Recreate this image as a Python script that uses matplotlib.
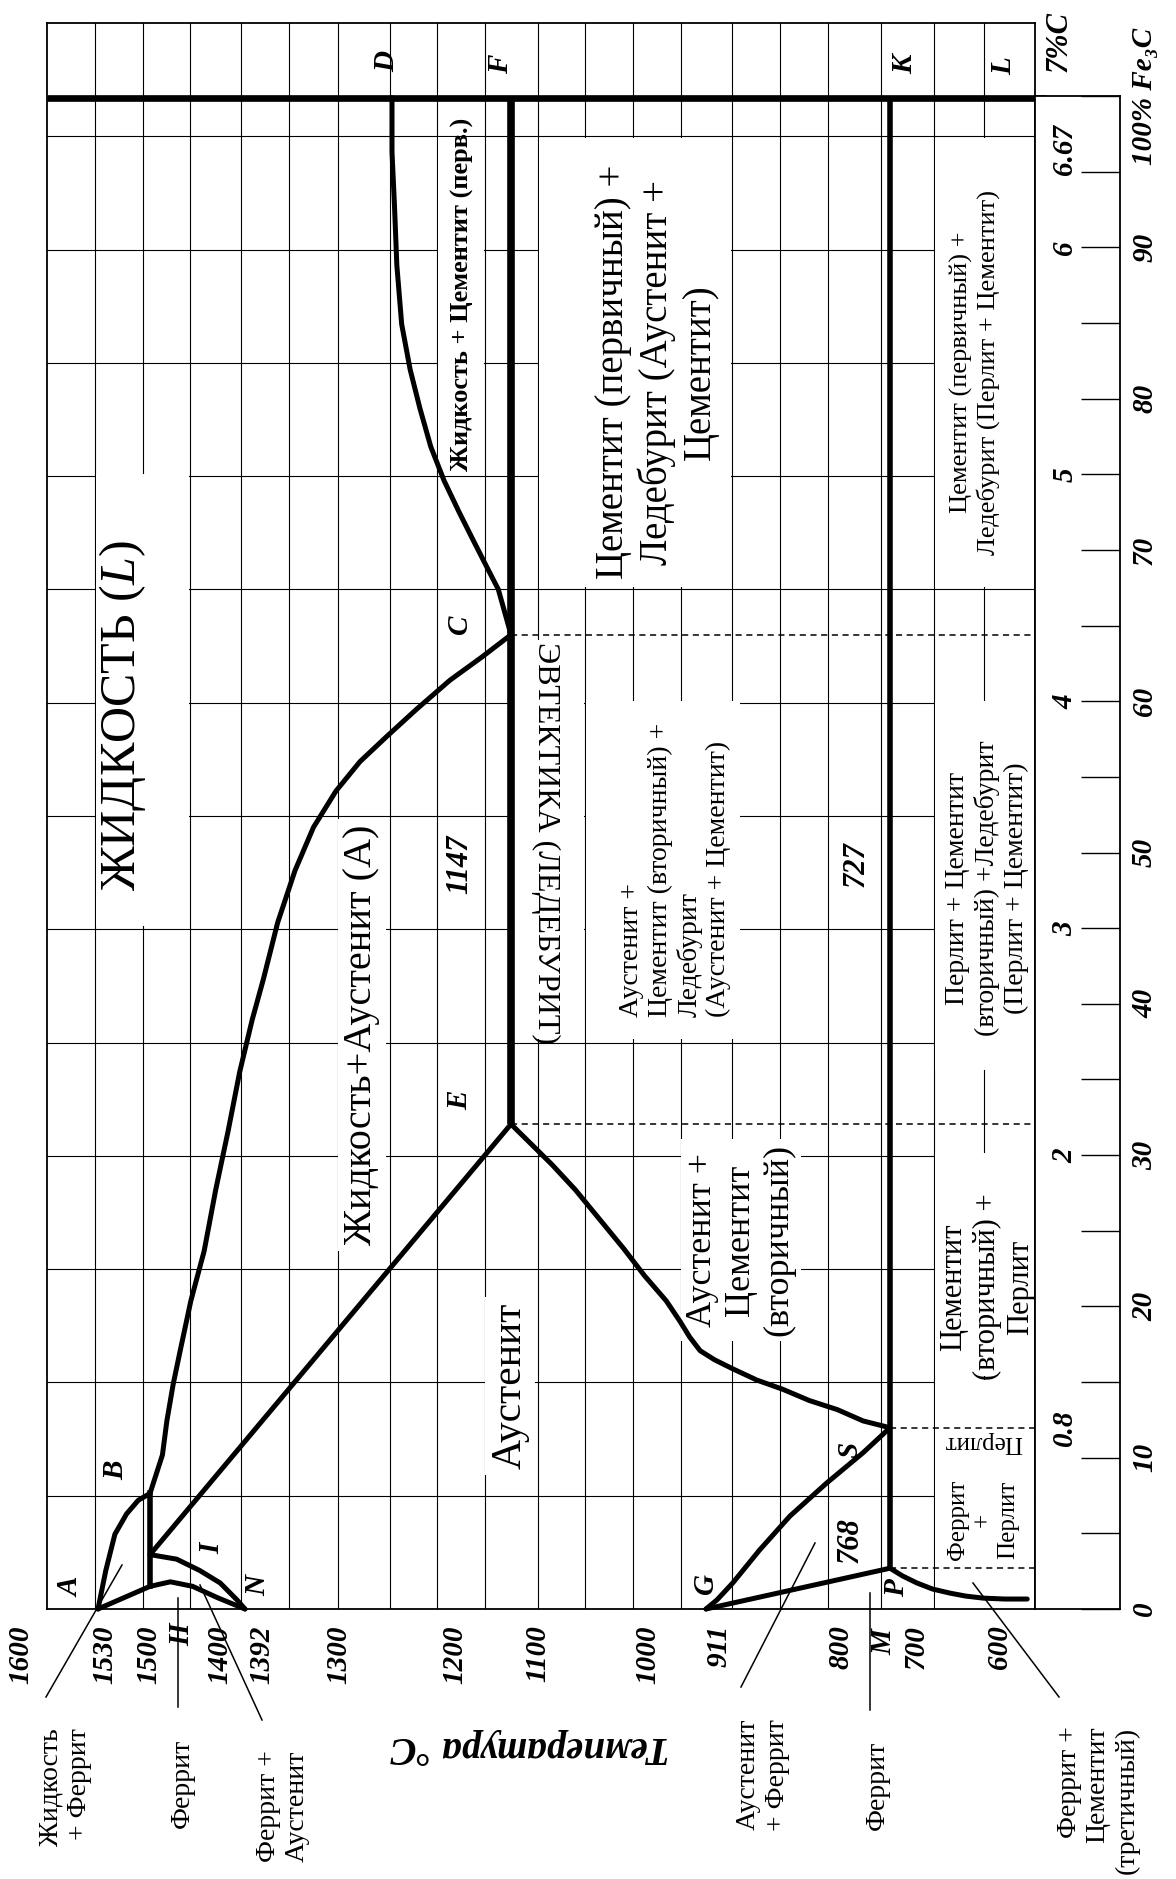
import numpy as np
import matplotlib
matplotlib.use('Agg')
import matplotlib.pyplot as plt
from matplotlib.lines import Line2D
from matplotlib.patches import Rectangle
from matplotlib.transforms import blended_transform_factory

plt.rcParams['font.family'] = ['Liberation Serif', 'DejaVu Serif']
plt.rcParams['mathtext.fontset'] = 'custom'
plt.rcParams['mathtext.rm'] = 'Liberation Serif'
plt.rcParams['mathtext.it'] = 'Liberation Serif:italic'

# Fe - Fe3C diagram, temperature in C, carbon in %
# the drawing is a hand made scheme, shapes are read off the picture
ab_t = [1539, 1533, 1526, 1517, 1508, 1499]
ab_c = [0, 0.17, 0.33, 0.42, 0.48, 0.51]
ah_t = [1539, 1499]
ah_c = [0, 0.1]
hb_t = [1499, 1499]
hb_c = [0.1, 0.51]
hn_t = [1499, 1476, 1451, 1423, 1392]
hn_c = [0.1, 0.12, 0.1, 0.05, 0]
jn_t = [1499, 1469, 1443, 1420, 1401, 1392]
jn_c = [0.24, 0.22, 0.17, 0.115, 0.04, 0]
je_t = [1499, 1147]
je_c = [0.24, 2.14]
bc_t = [1499, 1485, 1480, 1473, 1465, 1453, 1438, 1425, 1411, 1398, 1385,
        1374, 1360, 1343, 1325, 1303, 1281, 1257, 1232, 1204, 1175, 1147]
bc_c = [0.51, 0.68, 0.83, 0.99, 1.14, 1.36, 1.58, 1.85, 2.11, 2.37, 2.6,
        2.78, 3.03, 3.26, 3.45, 3.61, 3.74, 3.85, 3.97, 4.1, 4.2, 4.3]
dc_t = [1252, 1252, 1250, 1248, 1244, 1237, 1229, 1220, 1209, 1196, 1182,
        1170, 1159, 1153, 1147]
dc_c = [6.67, 6.43, 6.2, 5.93, 5.67, 5.47, 5.3, 5.13, 4.98, 4.84, 4.71,
        4.6, 4.5, 4.4, 4.3]
ecf_t = [1147, 1147]
ecf_c = [2.14, 6.67]
gs_t = [911, 902, 889, 867, 842, 812, 767, 727]
gs_c = [0, 0.04, 0.115, 0.26, 0.41, 0.555, 0.69, 0.8]
gp_t = [911, 727]
gp_c = [0, 0.18]
se_t = [1147, 1087, 1066, 1044, 1022, 1003, 972, 951, 936, 920, 904,
        889, 869, 848, 826, 803, 767, 727]
se_c = [2.14, 1.96, 1.85, 1.72, 1.59, 1.47, 1.36, 1.27, 1.2, 1.14,
        1.1, 1.06, 1.01, 0.97, 0.92, 0.88, 0.83, 0.8]
pq_t = [727, 714, 699, 680, 659, 640, 619, 593, 566]
pq_c = [0.18, 0.146, 0.115, 0.088, 0.07, 0.057, 0.048, 0.044, 0.044]
psk_t = [727, 727]
psk_c = [0.18, 6.67]

# dashed lines from E, C, S, P to the low temperature edge
dash_t = [1147, 1147, 727, 727]
dash_c = [2.14, 4.3, 0.8, 0.18]

temp_ticks = [1600, 1530, 1500, 1400, 1392, 1300, 1200, 1100, 1000, 911, 800, 700, 600]
temp_nudge = [0, -5, 0, -18, 17, 0, 0, 0, 0, 13, 0, 0, 0]
carbon_ticks = [0.8, 2, 3, 4, 5, 6, 6.67]
carbon_labels = ['0.8', '2', '3', '4', '5', '6', '6.67']
fe3c_ticks = list(range(0, 101, 5))
fe3c_labels = [str(v) if v % 10 == 0 else '' for v in fe3c_ticks]
fe3c_labels[-1] = '100% Fe₃C'

W, H = 1176, 1879
fig = plt.figure(figsize=(W / 100, H / 100), dpi=100)
ax = fig.add_axes([47 / W, 1 - 1609 / H, 988 / W, 1586 / H])

# the temperature scale of the scheme is not uniform
knot_t = np.array([1650, 1600, 1539, 1499, 1392, 1300, 1252, 1200, 1147,
                   1100, 1000, 911, 800, 727, 700, 600, 500], float)
knot_x = np.array([-42, 21, 98, 150, 245, 339, 392, 455, 511,
                   538, 648, 706, 841, 890, 916, 999, 1082], float)


def t_to_px(t):
    return np.interp(-np.asarray(t, float), -knot_t, knot_x)


def px_to_t(x):
    return -np.interp(np.asarray(x, float), knot_x, -knot_t)


ax.set_xscale('function', functions=(lambda t: -t_to_px(t), lambda v: px_to_t(-v)))
t_left, t_right = float(px_to_t(47)), float(px_to_t(1035))

# table grid
grid_x = [95, 143, 190, 241, 289, 338, 390, 437, 485, 538, 585, 633, 681,
          732, 780, 828, 881, 934, 984]
for gx in grid_x:
    ax.axvline(float(px_to_t(gx)), color='k', lw=0.8, zorder=1)
for c in np.arange(0.5, 6.51, 0.5):
    ax.axhline(c, color='k', lw=0.8, zorder=1)

# white cells of the table that hold the captions
for x0, y0, x1, y1 in [(438, 137, 484, 474), (96, 474, 189, 926),
                       (539, 138, 731, 587), (513, 640, 584, 1039),
                       (586, 701, 740, 1039), (935, 138, 1034, 587),
                       (935, 701, 1034, 1070), (935, 1153, 1034, 1376),
                       (935, 1380, 1034, 1608)]:
    ax.add_patch(Rectangle((x0 / W, 1 - y1 / H), (x1 - x0) / W, (y1 - y0) / H,
                           transform=fig.transFigure, fc='white', ec='none',
                           zorder=1.5))

thick = dict(color='k', lw=3.6, solid_capstyle='round',
             solid_joinstyle='round', zorder=4, clip_on=False)
for t, c in [(ab_t, ab_c), (ah_t, ah_c), (hn_t, hn_c), (jn_t, jn_c),
             (je_t, je_c), (bc_t, bc_c), (dc_t, dc_c), (gs_t, gs_c),
             (gp_t, gp_c), (se_t, se_c), (pq_t, pq_c)]:
    ax.plot(t, c, **thick)
ax.plot(hb_t, hb_c, color='k', lw=4, zorder=4)
ax.plot(ecf_t, ecf_c, color='k', lw=5.5, zorder=4, solid_capstyle='butt')
ax.plot(psk_t, psk_c, color='k', lw=4, zorder=4, solid_capstyle='butt')
ax.plot([t_left, float(px_to_t(1046))], [6.67, 6.67], color='k', lw=4.8,
        zorder=4, clip_on=False, solid_capstyle='butt')
for t, c in zip(dash_t, dash_c):
    ax.plot([t, t_right], [c, c], color='k', lw=1.1, ls=(0, (4, 3)), zorder=3)

ax.set_xlim(t_left, t_right)
ax.set_ylim(0, 7)
ax.set_xticks([])
ax.set_yticks([])
ax.xaxis.set_minor_locator(matplotlib.ticker.NullLocator())
for sp in ax.spines.values():
    sp.set_linewidth(1.3)
    sp.set_zorder(5)

# carbon / cementite scale at the right
ax2 = fig.add_axes([1035 / W, 1 - 1609 / H, 85 / W, (1609 - 96) / H])
ax2.set_xlim(0, 1)
ax2.set_ylim(0, 100)
ax2.set_xticks([])
ax2.yaxis.tick_right()
ax2.set_yticks(fe3c_ticks)
ax2.set_yticklabels(fe3c_labels)
ax2.tick_params(axis='y', direction='in', length=28, width=1, pad=8,
                labelsize=21, labelrotation=90)
for lab in ax2.get_yticklabels():
    lab.set_va('center')
    lab.set_fontweight('bold')
    lab.set_fontstyle('italic')
for sp in ax2.spines.values():
    sp.set_linewidth(1.3)
ytr = ax2.get_yaxis_transform()
for c, s in zip(carbon_ticks, carbon_labels):
    yc = c / 6.67 * 100
    if s == '6.67':
        yc -= 3.5
    ax2.text(0.35, yc, s, transform=ytr, rotation=90, ha='center',
             va='center', fontsize=21, fontweight='bold', fontstyle='italic')

# temperature labels
btr = blended_transform_factory(ax.transData, fig.transFigure)
for t, dx in zip(temp_ticks, temp_nudge):
    ax.annotate(str(t), xy=(t, 1 - 1625 / H), xycoords=btr,
                xytext=(dx, 0), textcoords='offset pixels', rotation=90,
                ha='center', va='top', fontsize=21, fontweight='bold',
                fontstyle='italic', annotation_clip=False)

bi = dict(fontweight='bold', fontstyle='italic')
box = dict(fc='white', ec='none', pad=4)


def put(x, y, s, size, rot=90, **kw):
    kw.setdefault('ha', 'center')
    kw.setdefault('va', 'center')
    ax.text(x / W, 1 - y / H, s, transform=fig.transFigure, fontsize=size,
            rotation=rot, zorder=2, **kw)


put(122, 716, 'ЖИДКОСТЬ ($\\mathit{L}$)', 36)
put(362, 1035, 'Жидкость+Аустенит (А)', 29, bbox=box)
put(460, 864, '1147', 22, bbox=box, **bi)
put(856, 864, '727', 22, bbox=box, **bi)
put(510, 1386, 'Аустенит', 30, bbox=box)
put(741, 1240, 'Аустенит +\nЦементит\n(вторичный)', 26, bbox=box)
put(675, 870, 'Аустенит +\nЦементит (вторичный) +\nЛедебурит\n(Аустенит + Цементит)',
    20, multialignment='left')
put(657, 372, 'Цементит (первичный) +\nЛедебурит (Аустенит +\nЦементит)', 28)
put(462, 294, 'Жидкость + Цементит (перв.)', 19, fontweight='bold')
put(546, 843, 'ЭВТЕКТИКА (ЛЕДЕБУРИТ)', 23, rot=-90)
put(975, 372, 'Цементит (первичный) +\nЛедебурит (Перлит + Цементит)', 19)
put(987, 888, 'Перлит + Цементит\n(вторичный) +Ледебурит\n(Перлит + Цементит)', 20)
put(987, 1287, 'Цементит\n(вторичный) +\nПерлит', 22)
put(983, 1520, 'Феррит\n+\nПерлит', 18)
put(983, 1442, 'Перлит', 18, rot=180)
put(850, 1540, '768', 22, **bi)

for s, x, y in [('A', 71, 1587), ('B', 116, 1470), ('I', 212, 1548),
                ('N', 258, 1585), ('G', 705, 1583), ('S', 850, 1450),
                ('P', 897, 1588), ('Q', 1066, 1583), ('E', 460, 1100),
                ('C', 460, 624), ('D', 387, 62), ('F', 501, 64),
                ('K', 905, 64), ('L', 1004, 66), ('H', 182, 1635),
                ('M', 884, 1642)]:
    put(x, y, s, 21, **bi)

put(1059, 41, '7%C', 22, **bi)
put(530, 1747, 'Температура °C', 28, rot=180, **bi)

put(65, 1787, 'Жидкость\n+ Феррит', 20, multialignment='right')
put(182, 1783, 'Феррит', 20)
put(283, 1806, 'Феррит +\nАустенит', 20, multialignment='left')
put(763, 1775, 'Аустенит\n+ Феррит', 20, multialignment='right')
put(877, 1785, 'Феррит', 20)
put(1098, 1800, 'Феррит +\nЦементит\n(третичный)', 20, multialignment='right')

for x0, y0, x1, y1 in [(122, 1565, 46, 1697), (178, 1598, 178, 1707),
                       (200, 1585, 262, 1720), (815, 1543, 741, 1687),
                       (870, 1593, 870, 1710), (973, 1583, 1059, 1697)]:
    fig.add_artist(Line2D([x0 / W, x1 / W], [1 - y0 / H, 1 - y1 / H],
                          transform=fig.transFigure, color='k', lw=1.1))

fig.savefig('out.png', dpi=100)
